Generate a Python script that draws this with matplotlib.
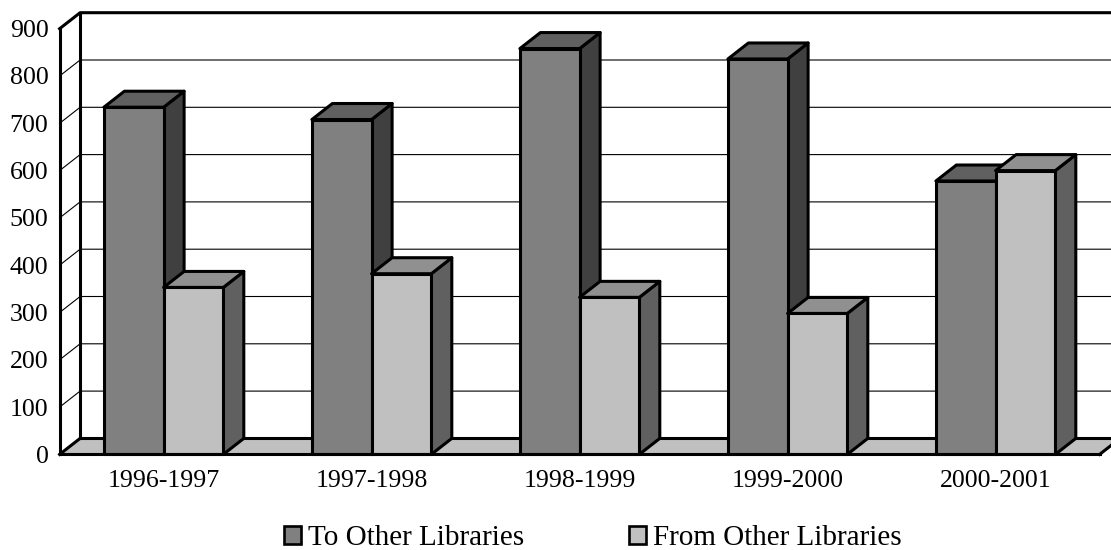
import matplotlib
matplotlib.use("Agg")
import matplotlib.pyplot as plt
from matplotlib.patches import Polygon, Patch

categories = ["1996-1997", "1997-1998", "1998-1999", "1999-2000", "2000-2001"]
to_other = [734, 708, 858, 836, 578]
from_other = [353, 382, 332, 298, 600]
y_ticks = [0, 100, 200, 300, 400, 500, 600, 700, 800, 900]
series_names = ["To Other Libraries", "From Other Libraries"]

plt.rcParams['font.family'] = ['Liberation Serif', 'DejaVu Serif']
FS = 18.6
FS_LEG = 21
W, H = 1111, 550
fig = plt.figure(figsize=(W / 100, H / 100), dpi=100, facecolor='white')
ax = fig.add_axes([59.6 / W, (H - 454.4) / H, 1040 / W, 425.7 / H])
ax.set_xlim(0, 5)
ax.set_ylim(0, 900)
ax.patch.set_visible(False)
for s in ax.spines.values():
    s.set_visible(False)

DX = 20.5 / 208
DY = 16 / 0.473
BW = 59.7 / 208
LW_H = 2.2
LW_T = 0.8
XR = 5.06
edge = dict(edgecolor='black', linewidth=LW_H, joinstyle='round', clip_on=False)

# floor
ax.add_patch(Polygon([(0, 0), (5, 0), (5 + DX, DY), (DX, DY)],
                     closed=True, facecolor='#C0C0C0', edgecolor='none', clip_on=False, zorder=1))
ax.plot([DX, XR], [DY, DY], color='black', lw=LW_H, clip_on=False, zorder=1.5)
ax.plot([0, DX], [0, DY], color='black', lw=LW_H, clip_on=False, zorder=1.5)
ax.plot([5, 5 + DX], [0, DY], color='black', lw=LW_H, clip_on=False, zorder=1.5)

# gridlines on walls
for v in y_ticks[1:-1]:
    ax.plot([0, DX, XR], [v, v + DY, v + DY], color='black', lw=LW_T, clip_on=False, zorder=1.2)

# walls
ax.plot([0, DX, XR], [900, 900 + DY, 900 + DY], color='black', lw=LW_H, clip_on=False, zorder=2,
        solid_joinstyle='round')
ax.plot([DX, DX], [DY, 900 + DY], color='black', lw=LW_H, clip_on=False, zorder=2)
ax.plot([0, 0], [0, 900], color='black', lw=LW_H, clip_on=False, zorder=2, solid_capstyle='projecting')

styles = [('#808080', '#606060', '#404040'), ('#C0C0C0', '#909090', '#606060')]
z = 3
for i in range(len(categories)):
    for j, vals in enumerate([to_other, from_other]):
        x0 = i + 0.5 - BW + j * BW
        x1 = x0 + BW
        v = vals[i]
        front, top, side = styles[j]
        ax.add_patch(Polygon([(x1, 0), (x1 + DX, DY), (x1 + DX, v + DY), (x1, v)],
                             closed=True, facecolor=side, zorder=z, **edge))
        ax.add_patch(Polygon([(x0, v), (x0 + DX, v + DY), (x1 + DX, v + DY), (x1, v)],
                             closed=True, facecolor=top, zorder=z, **edge))
        ax.bar(x0, v, width=BW, align='edge', color=front, zorder=z + 0.1,
               edgecolor='black', linewidth=LW_H, clip_on=False)
        z += 1

ax.plot([0, 5], [0, 0], color='black', lw=LW_H, clip_on=False, zorder=z, solid_capstyle='projecting')

ax.set_xticks([i + 0.5 for i in range(len(categories))], categories, fontsize=FS)
ax.set_yticks(y_ticks, [str(v) for v in y_ticks], fontsize=FS)
ax.tick_params(axis='both', length=0)
ax.tick_params(axis='x', pad=11)
ax.tick_params(axis='y', pad=8)

handles = [Patch(facecolor=styles[0][0], edgecolor='black', linewidth=LW_H - 0.3),
           Patch(facecolor=styles[1][0], edgecolor='black', linewidth=LW_H - 0.3)]
fig.legend(handles, series_names, ncol=2, frameon=False, fontsize=FS_LEG,
           loc='center', bbox_to_anchor=(593 / W, (H - 538) / H),
           handlelength=0.58, handleheight=0.58, handletextpad=0.25, columnspacing=3.6,
           borderpad=0, borderaxespad=0)

fig.savefig('out.png', dpi=100, facecolor='white')
